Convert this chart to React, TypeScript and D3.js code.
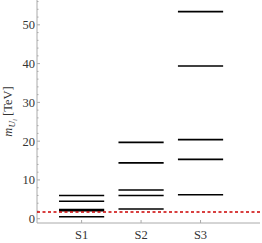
import * as d3 from 'd3';

const categories = ['S1', 'S2', 'S3'];
// mass levels (TeV) per scenario
const s1Masses = [6.0, 4.5, 2.4, 2.05, 0.5];
const s2Masses = [19.7, 14.4, 7.4, 6.0, 2.5];
const s3Masses = [53.4, 39.4, 20.4, 15.3, 6.2];
const bound = 1.75;
const yTicks = [0, 10, 20, 30, 40, 50];

const W = 262;
const H = 243;

export default function App() {
  const left = 37;
  const right = 260;
  const top = 0;
  const bottom = 223;

  const x = d3.scaleLinear().domain([0.25, 4.0]).range([left, right]);
  const y = d3.scaleLinear().domain([-1.1, 56.4]).range([bottom, top]);
  const halfW = 0.38;

  const series = [s1Masses, s2Masses, s3Masses];
  const minorTicks = d3.range(0, 57, 2).filter(v => v % 10 !== 0);
  const font = '"Liberation Serif", "Times New Roman", serif';
  const axisColor = '#aaa';

  return (
    <svg width={W} height={H} style={{ position: 'absolute', left: 0, top: 0 }}>
      {/* axes */}
      <line x1={left} x2={left} y1={top} y2={bottom} stroke={axisColor} strokeWidth={1} />
      <line x1={left} x2={right} y1={bottom} y2={bottom} stroke={axisColor} strokeWidth={1} />
      {yTicks.map(t => (
        <g key={t}>
          <line x1={left} x2={left + 3} y1={y(t)} y2={y(t)} stroke={axisColor} />
          <text x={left - 2} y={y(t)} dy="0.35em" textAnchor="end" fontFamily={font} fontSize={12.5} fill="#333">{t}</text>
        </g>
      ))}
      {minorTicks.map(t => (
        <line key={t} x1={left} x2={left + 1.5} y1={y(t)} y2={y(t)} stroke={axisColor} />
      ))}
      {categories.map((c, i) => (
        <g key={c}>
          <line x1={x(i + 1)} x2={x(i + 1)} y1={bottom} y2={bottom - 3} stroke={axisColor} />
          <text x={x(i + 1)} y={238.5} textAnchor="middle" fontFamily={font} fontSize={12.5} fill="#333">{c}</text>
        </g>
      ))}
      {/* y label */}
      <text transform={`translate(12, ${(top + bottom) / 2}) rotate(-90)`} textAnchor="middle" fontFamily={font} fontSize={12.5} fill="#333">
        <tspan fontStyle="italic">m</tspan>
        <tspan fontStyle="italic" fontSize={9} dy={3}>U</tspan>
        <tspan fontStyle="italic" fontSize={7} dy={2}>i</tspan>
        <tspan dy={-5}> [TeV]</tspan>
      </text>
      {/* mass levels */}
      {series.map((vals, i) =>
        vals.map((v, j) => (
          <line key={`${i}-${j}`} x1={x(i + 1 - halfW)} x2={x(i + 1 + halfW)} y1={y(v)} y2={y(v)} stroke="#000" strokeWidth={1.6} />
        ))
      )}
      {/* bound */}
      <line x1={left} x2={right} y1={y(bound)} y2={y(bound)} stroke="#cc0000" strokeWidth={1.6} strokeDasharray="3,2.5" />
    </svg>
  );
}
